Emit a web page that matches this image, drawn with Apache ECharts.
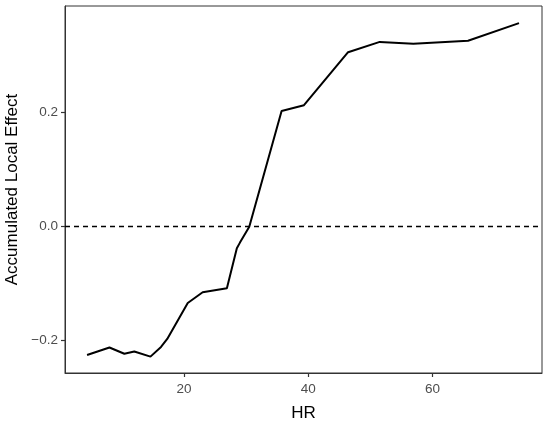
<!DOCTYPE html>
<html>
<head>
<meta charset="utf-8">
<script src="https://cdn.jsdelivr.net/npm/echarts@6/dist/echarts.min.js"></script>
<style>
  html, body { margin: 0; padding: 0; background: #fff; }
  #chart { width: 550px; height: 423px; }
</style>
</head>
<body>
<div id="chart"></div>
<script>
// values
const hr = [4.4, 8.0, 10.4, 12.0, 14.6, 16.3, 17.3, 20.6, 23.0, 26.9, 28.5, 29.0, 30.5, 35.7, 39.3, 46.4, 51.5, 56.9, 65.7, 73.9]
const ale = [-0.225, -0.212, -0.223, -0.219, -0.228, -0.211, -0.197, -0.134, -0.115, -0.108, -0.038, -0.028, 0.0, 0.203, 0.213, 0.306, 0.324, 0.321, 0.326, 0.357]
const xTicks = [20, 40, 60]
const yTicks = [-0.2, 0, 0.2]

const chart = echarts.init(document.getElementById('chart'))
const points = hr.map((x, i) => [x, ale[i]])
const tickColor = '#333333'
const labelColor = '#4d4d4d'
const font = 'Liberation Sans, Arial'

const option = {
  animation: false,
  grid: {
    left: 65,
    right: 8,
    top: 6,
    bottom: 50,
    outerBoundsMode: 'none',
    containLabel: false,
    show: true,
    borderColor: tickColor,
    borderWidth: 1
  },
  xAxis: {
    type: 'value',
    min: 0.85,
    max: 77.6,
    name: 'HR',
    nameLocation: 'middle',
    nameGap: 32,
    nameTextStyle: { color: '#000', fontSize: 17, fontFamily: font },
    axisLine: { show: true, onZero: false, lineStyle: { color: tickColor, width: 1 } },
    splitLine: { show: false },
    axisTick: { show: true, length: 4, customValues: xTicks, lineStyle: { color: tickColor, width: 1.2 } },
    axisLabel: {
      customValues: xTicks,
      color: labelColor,
      fontSize: 13.5,
      margin: 9,
      fontFamily: font
    }
  },
  yAxis: {
    type: 'value',
    min: -0.2567,
    max: 0.387,
    name: 'Accumulated Local Effect',
    nameLocation: 'middle',
    nameGap: 41,
    nameTextStyle: { color: '#000', fontSize: 17, fontFamily: font },
    axisLine: { show: true, onZero: false, lineStyle: { color: tickColor, width: 1 } },
    splitLine: { show: false },
    axisTick: { show: true, length: 4, customValues: yTicks, lineStyle: { color: tickColor, width: 1.2 } },
    axisLabel: {
      customValues: yTicks,
      color: labelColor,
      fontSize: 13.5,
      margin: 7,
      fontFamily: font,
      formatter: (v) => (v < 0 ? '\u2212' + Math.abs(v).toFixed(1) : v.toFixed(1))
    }
  },
  series: [
    {
      type: 'line',
      data: points,
      showSymbol: false,
      lineStyle: { color: '#000', width: 2 },
      markLine: {
        silent: true,
        symbol: 'none',
        label: { show: false },
        lineStyle: { color: '#000', width: 1.3, type: [5, 4] },
        data: [{ yAxis: 0 }]
      }
    }
  ]
}
chart.setOption(option)
</script>
</body>
</html>
